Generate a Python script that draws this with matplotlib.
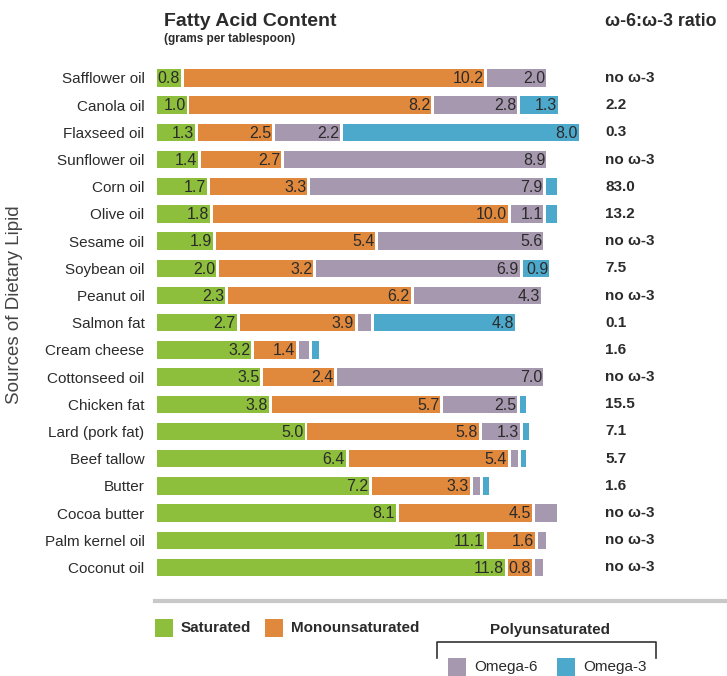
import numpy as np
import matplotlib.pyplot as plt
from matplotlib.patches import Rectangle
from matplotlib.lines import Line2D

plt.rcParams['font.family'] = ['Liberation Sans', 'DejaVu Sans']

# data (grams per tablespoon)
foods = ['Safflower oil', 'Canola oil', 'Flaxseed oil', 'Sunflower oil', 'Corn oil',
         'Olive oil', 'Sesame oil', 'Soybean oil', 'Peanut oil', 'Salmon fat',
         'Cream cheese', 'Cottonseed oil', 'Chicken fat', 'Lard (pork fat)',
         'Beef tallow', 'Butter', 'Cocoa butter', 'Palm kernel oil', 'Coconut oil']
saturated = [0.8, 1.0, 1.3, 1.4, 1.7, 1.8, 1.9, 2.0, 2.3, 2.7, 3.2, 3.5, 3.8, 5.0, 6.4, 7.2, 8.1, 11.1, 11.8]
mono = [10.2, 8.2, 2.5, 2.7, 3.3, 10.0, 5.4, 3.2, 6.2, 3.9, 1.4, 2.4, 5.7, 5.8, 5.4, 3.3, 4.5, 1.6, 0.8]
omega6 = [2.0, 2.8, 2.2, 8.9, 7.9, 1.1, 5.6, 6.9, 4.3, 0.45, 0.35, 7.0, 2.5, 1.3, 0.25, 0.25, 0.75, 0.3, 0.3]
omega3 = [0, 1.3, 8.0, 0, 0.35, 0.35, 0, 0.9, 0, 4.8, 0.25, 0, 0.2, 0.2, 0.15, 0.2, 0, 0, 0]
ratios = ['no ω-3', '2.2', '0.3', 'no ω-3', '83.0', '13.2', 'no ω-3', '7.5', 'no ω-3', '0.1',
          '1.6', 'no ω-3', '15.5', '7.1', '5.7', '1.6', 'no ω-3', 'no ω-3', 'no ω-3']

colors = ['#8DBE3C', '#E0883C', '#A698AE', '#4DA9CB']
series = [saturated, mono, omega6, omega3]
txt_col = '#2b2b2b'

W, H = 727, 676
fig = plt.figure(figsize=(W / 100, H / 100), dpi=100)
ax = fig.add_axes([157 / W, 1 - 581 / H, 570 / W, 516.6 / H])
px_per_unit = 29.5
gap = 0.1

y = np.arange(len(foods))
left = np.zeros(len(foods))
for vals, col in zip(series, colors):
    vals = np.array(vals, dtype=float)
    mask = vals > 0
    ax.barh(y[mask], vals[mask], left=left[mask], height=0.64, color=col, linewidth=0)
    for i in np.where(mask)[0]:
        if vals[i] >= 0.8:  # small slivers carry no label
            ax.text(left[i] + vals[i] - 0.03, y[i] + 0.03, f'{vals[i]:.1f}', ha='right',
                    va='center', fontsize=11.5, color=txt_col)
    left = left + np.where(mask, vals + gap, 0)

for i, r in enumerate(ratios):
    ax.text((605 - 157) / px_per_unit, i, r, ha='left', va='center', fontsize=11,
            fontweight='bold', color=txt_col)

ax.set_xlim(0, 570 / px_per_unit)
ax.set_ylim(len(foods) - 0.5, -0.5)
ax.set_yticks(y)
ax.set_yticklabels(foods, fontsize=11, color=txt_col)
ax.tick_params(axis='y', length=0, pad=9)
ax.set_xticks([])
for s in ax.spines.values():
    s.set_visible(False)

# headers
fig.text(164 / W, 1 - 22 / H, 'Fatty Acid Content', fontsize=14, fontweight='bold',
         color=txt_col, va='center')
fig.text(164 / W, 1 - 39 / H, '(grams per tablespoon)', fontsize=8.5, fontweight='bold',
         color=txt_col, va='center')
fig.text(605 / W, 1 - 22 / H, 'ω-6:ω-3 ratio', fontsize=12.8, fontweight='bold',
         color=txt_col, va='center')
fig.text(15 / W, 1 - 305 / H, 'Sources of Dietary Lipid', fontsize=13.5, rotation=90,
         color='#444444', ha='center', va='center')

# separator line
fig.add_artist(Line2D([155 / W, 1], [1 - 601 / H] * 2, color='#c8c8c8', lw=3,
                      transform=fig.transFigure))

# legend
def swatch(x, yy, col, label, bold):
    fig.add_artist(Rectangle((x / W, 1 - (yy + 9) / H), 18 / W, 18 / H, color=col,
                             transform=fig.transFigure, lw=0))
    fig.text((x + 26) / W, 1 - yy / H, label, fontsize=11,
             fontweight='bold' if bold else 'normal', color=txt_col, va='center')

swatch(155, 628, colors[0], 'Saturated', True)
swatch(265, 628, colors[1], 'Monounsaturated', True)
fig.text(550 / W, 1 - 630 / H, 'Polyunsaturated', fontsize=11, fontweight='bold',
         color=txt_col, ha='center', va='center')
bx = [437 / W, 437 / W, 656 / W, 656 / W]
by = [1 - 658 / H, 1 - 642 / H, 1 - 642 / H, 1 - 658 / H]
fig.add_artist(Line2D(bx, by, color='#333333', lw=1.2, transform=fig.transFigure))
swatch(448, 667, colors[2], 'Omega-6', False)
swatch(557, 667, colors[3], 'Omega-3', False)

fig.savefig('out.png', dpi=100, facecolor='white')
